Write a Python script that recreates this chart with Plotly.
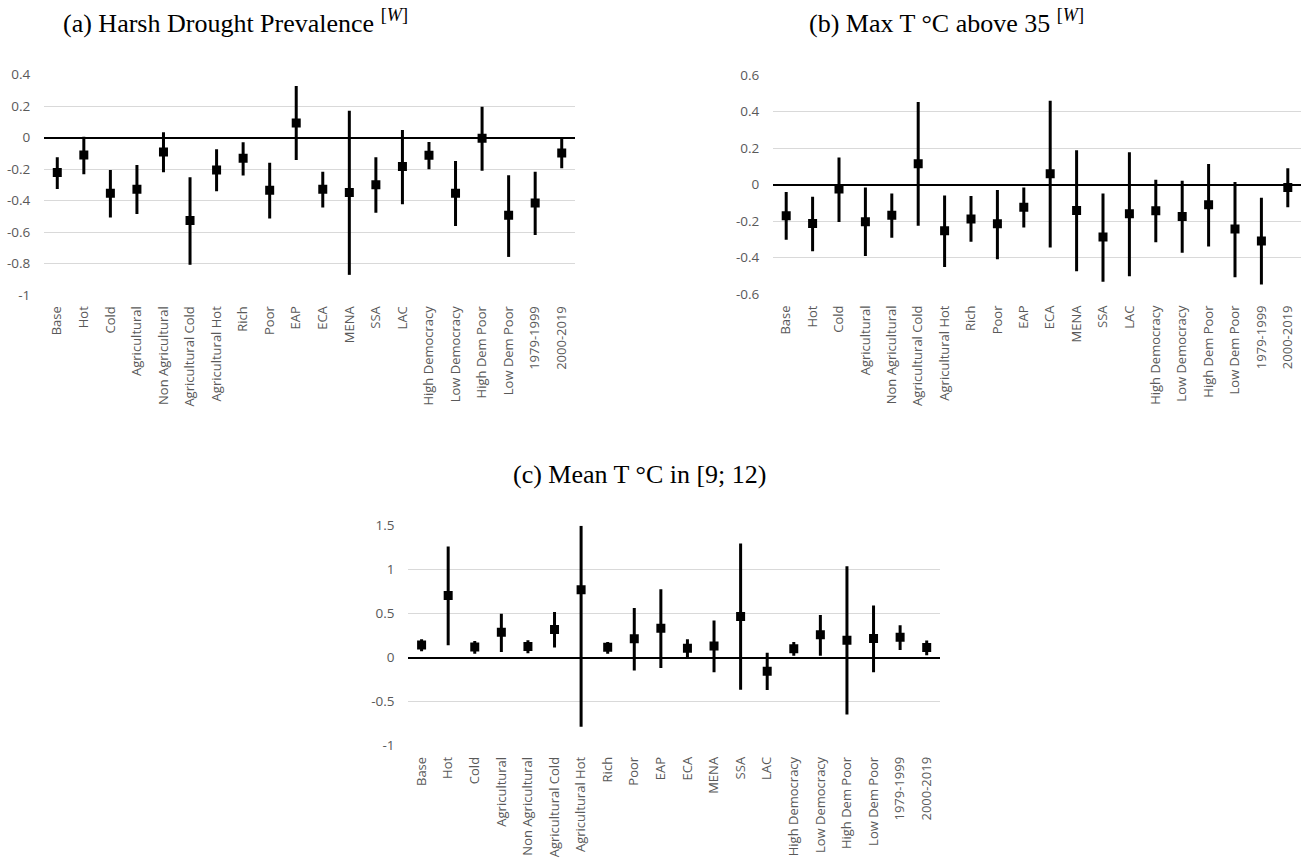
import plotly.graph_objects as go

categories = ["Base", "Hot", "Cold", "Agricultural", "Non Agricultural", "Agricultural Cold",
              "Agricultural Hot", "Rich", "Poor", "EAP", "ECA", "MENA", "SSA", "LAC",
              "High Democracy", "Low Democracy", "High Dem Poor", "Low Dem Poor",
              "1979-1999", "2000-2019"]

# (a) Harsh Drought Prevalence
a_est = [-0.222, -0.110, -0.353, -0.328, -0.091, -0.527, -0.205, -0.131, -0.334, 0.093,
         -0.328, -0.349, -0.300, -0.184, -0.112, -0.353, -0.004, -0.493, -0.415, -0.097]
a_hi = [-0.125, 0.006, -0.205, -0.174, 0.034, -0.252, -0.074, -0.030, -0.159, 0.328,
        -0.216, 0.171, -0.125, 0.049, -0.028, -0.148, 0.197, -0.239, -0.216, -0.004]
a_lo = [-0.326, -0.233, -0.508, -0.485, -0.220, -0.808, -0.341, -0.241, -0.514, -0.142,
        -0.444, -0.872, -0.478, -0.423, -0.201, -0.561, -0.210, -0.758, -0.618, -0.195]

# (b) Max T above 35
b_est = [-0.170, -0.212, -0.024, -0.203, -0.168, 0.115, -0.252, -0.188, -0.214, -0.123,
         0.059, -0.141, -0.287, -0.159, -0.143, -0.174, -0.110, -0.243, -0.309, -0.015]
b_hi = [-0.040, -0.066, 0.148, -0.015, -0.048, 0.452, -0.059, -0.062, -0.029, -0.015,
        0.459, 0.188, -0.048, 0.177, 0.027, 0.022, 0.113, 0.015, -0.071, 0.090]
b_lo = [-0.302, -0.364, -0.205, -0.391, -0.291, -0.225, -0.450, -0.313, -0.408, -0.234,
        -0.344, -0.474, -0.532, -0.501, -0.315, -0.373, -0.338, -0.507, -0.547, -0.124]

# (c) Mean T in [9; 12)
c_est = [0.145, 0.706, 0.122, 0.290, 0.126, 0.321, 0.771, 0.118, 0.214, 0.336,
         0.107, 0.134, 0.469, -0.153, 0.103, 0.260, 0.198, 0.218, 0.233, 0.115]
c_hi = [0.210, 1.263, 0.191, 0.500, 0.198, 0.519, 1.500, 0.179, 0.565, 0.779,
        0.210, 0.424, 1.298, 0.057, 0.179, 0.485, 1.038, 0.592, 0.370, 0.195]
c_lo = [0.073, 0.141, 0.046, 0.065, 0.050, 0.115, -0.786, 0.046, -0.145, -0.118,
        0.008, -0.164, -0.363, -0.366, 0.023, 0.023, -0.645, -0.164, 0.088, 0.027]

a_ticks = [0.4, 0.2, 0, -0.2, -0.4, -0.6, -0.8, -1]
a_ticktext = ["0.4", "0.2", "0", "-0.2", "-0.4", "-0.6", "-0.8", "-1"]
b_ticks = [0.6, 0.4, 0.2, 0, -0.2, -0.4, -0.6]
b_ticktext = ["0.6", "0.4", "0.2", "0", "-0.2", "-0.4", "-0.6"]
c_ticks = [1.5, 1, 0.5, 0, -0.5, -1]
c_ticktext = ["1.5", "1", "0.5", "0", "-0.5", "-1"]

titles = ["(a) Harsh Drought Prevalence <sup>[<i>W</i>]</sup>",
          "(b) Max T °C above 35 <sup>[<i>W</i>]</sup>",
          "(c) Mean T °C in [9; 12)"]

W, H = 1304, 858


def px_x(x0, x1):
    return [x0 / W, x1 / W]


def px_y(top, bottom):
    return [1 - bottom / H, 1 - top / H]


fig = go.Figure()

panels = [
    ("x", "y", a_est, a_hi, a_lo),
    ("x2", "y2", b_est, b_hi, b_lo),
    ("x3", "y3", c_est, c_hi, c_lo),
]
for xa, ya, est, hi, lo in panels:
    fig.add_trace(go.Scatter(
        x=categories, y=est, xaxis=xa, yaxis=ya, mode="markers",
        marker=dict(symbol="square", size=9, color="black"),
        error_y=dict(type="data", symmetric=False,
                     array=[h - e for h, e in zip(hi, est)],
                     arrayminus=[e - l for e, l in zip(est, lo)],
                     color="black", thickness=3, width=0),
        showlegend=False, cliponaxis=True,
    ))

xfont = dict(family="Open Sans", size=13, color="#595959")
yfont = dict(family="Open Sans", size=13.5, color="#595959")
xcommon = dict(type="category", tickangle=-90, tickfont=xfont, showgrid=False,
               ticks="outside", ticklen=5, tickcolor="rgba(0,0,0,0)", showline=False,
               zeroline=False, range=[-0.5, 19.5], automargin=False)
ycommon = dict(tickfont=yfont, showgrid=True, gridcolor="#d9d9d9", gridwidth=1,
               zeroline=True, zerolinecolor="black", zerolinewidth=2, automargin=False,
               ticks="outside", ticklen=10, tickcolor="rgba(0,0,0,0)", showline=False)

fig.update_layout(
    width=W, height=H, autosize=False,
    margin=dict(l=0, r=0, t=0, b=0, pad=0),
    paper_bgcolor="white", plot_bgcolor="white",
    xaxis=dict(domain=px_x(44, 575), anchor="y", **xcommon),
    yaxis=dict(domain=px_y(74.7, 295), anchor="x", range=[-1, 0.4],
               tickvals=a_ticks, ticktext=a_ticktext, **ycommon),
    xaxis2=dict(domain=px_x(773, 1301), anchor="y2", **xcommon),
    yaxis2=dict(domain=px_y(75, 294.3), anchor="x2", range=[-0.6, 0.6],
                tickvals=b_ticks, ticktext=b_ticktext, **ycommon),
    xaxis3=dict(domain=px_x(408.3, 940), anchor="y3", **xcommon),
    yaxis3=dict(domain=px_y(525.7, 745.7), anchor="x3", range=[-1, 1.5],
                tickvals=c_ticks, ticktext=c_ticktext, **ycommon),
)

title_pos = [(235.5, 21), (946, 21), (640, 475)]
for t, (cx, cy) in zip(titles, title_pos):
    fig.add_annotation(text=t, x=cx / W, y=1 - cy / H, xref="paper", yref="paper",
                       xanchor="center", yanchor="middle", showarrow=False,
                       font=dict(family="Liberation Serif", size=26, color="black"))

fig.write_html(
    "out.html",
    config={"displayModeBar": False},
    post_script="document.body.style.margin='0';document.body.style.overflow='hidden';",
)
